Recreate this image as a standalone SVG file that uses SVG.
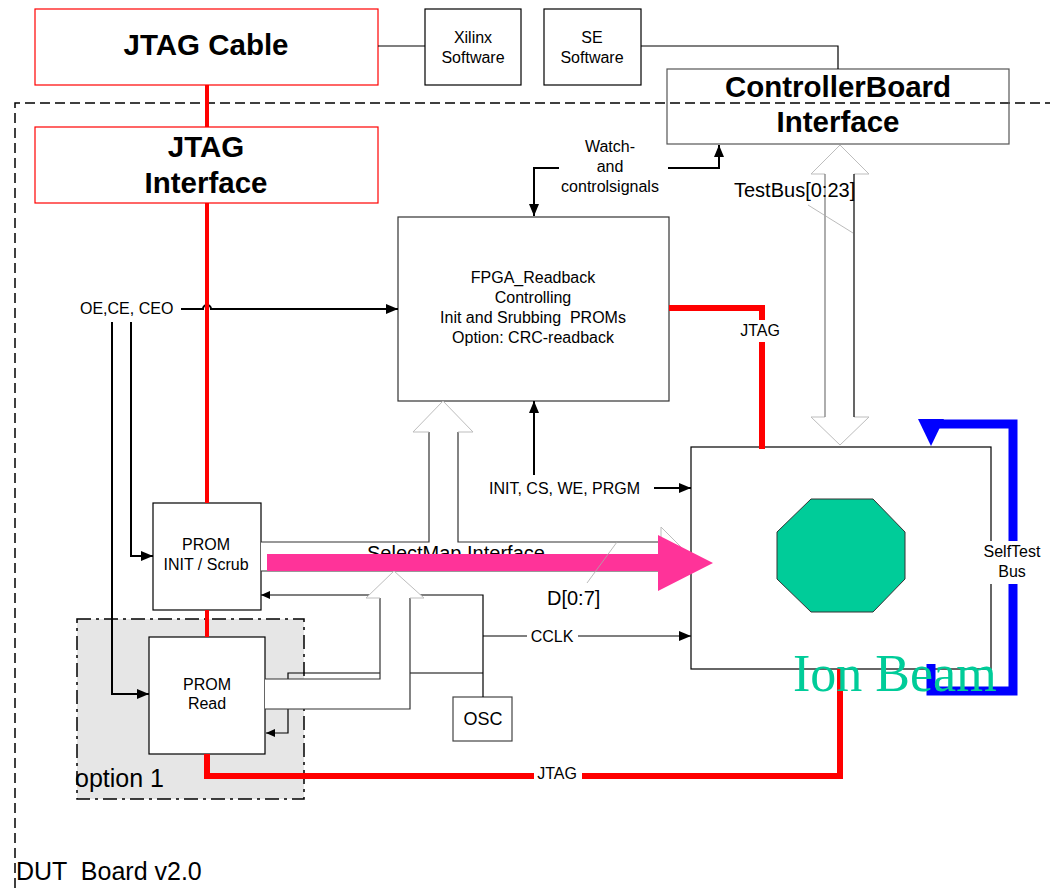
<svg xmlns="http://www.w3.org/2000/svg" width="1050" height="888" viewBox="0 0 1050 888">
<defs>
<marker id="ah" viewBox="0 0 12 10" refX="12" refY="5" markerWidth="12" markerHeight="10" markerUnits="userSpaceOnUse" orient="auto"><path d="M0,0 L12,5 L0,10 z" fill="#000"/></marker>
<marker id="ahs" viewBox="0 0 9 8" refX="9" refY="4" markerWidth="9" markerHeight="8" markerUnits="userSpaceOnUse" orient="auto"><path d="M0,0 L9,4 L0,8 z" fill="#000"/></marker>
</defs>
<style>
.t{font-family:"Liberation Sans",Arial,sans-serif;font-size:16px;fill:#000}
.m{text-anchor:middle}
.b{font-family:"Liberation Sans",Arial,sans-serif;font-size:29.5px;font-weight:bold;fill:#000;text-anchor:middle}
.box{fill:#fff;stroke:#000;stroke-width:1.2}
.rbox{fill:#fff;stroke:#f00;stroke-width:1.2}
.ln{fill:none;stroke:#000;stroke-width:2}
.thin{fill:none;stroke:#000;stroke-width:1.2}
.head{fill:none;stroke:#bdbdbd;stroke-width:1}
.shaft{fill:none;stroke:#333;stroke-width:1.2}
.red{fill:none;stroke:#f00}
.bg{fill:#fff}
</style>

<path d="M15,888 V103 H1050" fill="none" stroke="#000" stroke-width="1.5" stroke-dasharray="10,5"/>

<g id="option1">
<rect x="77" y="619" width="227" height="180" fill="#e6e6e6" stroke="#000" stroke-width="1.5" stroke-dasharray="14,5,3,5"/>
<text class="t" x="75" y="787" style="font-size:25px">option 1</text>
</g>

<g id="jtag-cable">
<rect class="rbox" x="35" y="9" width="343" height="76"/>
<text class="b" x="206" y="55">JTAG Cable</text>
</g>
<g id="xilinx-software">
<rect class="box" x="425" y="9" width="96" height="76"/>
<text class="t m" x="473" y="43">Xilinx</text>
<text class="t m" x="473" y="63">Software</text>
</g>
<g id="se-software">
<rect class="box" x="544" y="9" width="97" height="76"/>
<text class="t m" x="592" y="43">SE</text>
<text class="t m" x="592" y="63">Software</text>
</g>
<g id="controllerboard-interface">
<rect x="667" y="69" width="342" height="75" fill="none" stroke="#555" stroke-width="1.2"/>
<text class="b" x="838" y="97">ControllerBoard</text>
<text class="b" x="838" y="132">Interface</text>
</g>
<g id="jtag-interface">
<rect class="rbox" x="35" y="127" width="343" height="76"/>
<text class="b" x="206" y="157">JTAG</text>
<text class="b" x="206" y="193">Interface</text>
</g>
<g id="fpga-readback">
<rect class="box" x="398" y="217" width="271" height="184" style="stroke:#333"/>
<text class="t m" x="533" y="283">FPGA_Readback</text>
<text class="t m" x="533" y="303">Controlling</text>
<text class="t m" x="533" y="323" xml:space="preserve">Init and Srubbing  PROMs</text>
<text class="t m" x="533" y="343">Option: CRC-readback</text>
</g>
<g id="prom-init">
<rect class="box" x="153" y="503" width="108" height="107"/>
<text class="t m" x="206" y="550">PROM</text>
<text class="t m" x="206" y="570">INIT / Scrub</text>
</g>
<g id="prom-read">
<rect class="box" x="149" y="637" width="116" height="117"/>
<text class="t m" x="207" y="690">PROM</text>
<text class="t m" x="207" y="709">Read</text>
</g>
<g id="osc">
<rect class="box" x="453" y="697" width="59" height="44" style="stroke:#444"/>
<text class="t m" x="483" y="725" style="font-size:18px">OSC</text>
</g>
<g id="dut">
<rect class="box" x="691" y="447" width="300" height="222"/>
<polygon points="811,499 873,499 905,532 905,579 873,612 811,612 777,579 777,532" fill="#00cc99" stroke="#333" stroke-width="1"/>
</g>

<g id="connectors">
<path class="thin" d="M378,46 H425"/>
<path class="thin" d="M641,46 H838 V69"/>
<path class="ln" d="M559,168 H534 V216" marker-end="url(#ah)"/>
<path class="ln" d="M668,168 H719 V145" marker-end="url(#ah)"/>
<path class="ln" d="M181,309 H203 A4,4 0 0 1 211,309 H398" marker-end="url(#ah)"/>
<path class="ln" d="M131,322 V556 H153" marker-end="url(#ah)"/>
<path class="ln" d="M112,322 V694 H149" marker-end="url(#ah)"/>
<path class="ln" d="M654,488 H691" marker-end="url(#ah)"/>
<path class="ln" d="M534,475 V401" marker-end="url(#ah)"/>
<path class="thin" d="M483,636 H691" marker-end="url(#ah)"/>
<path class="thin" d="M483,697 V595 H261" marker-end="url(#ahs)"/>
<path class="thin" d="M483,673 H288 V733 H266" marker-end="url(#ahs)"/>

<!-- TestBus double hollow arrow -->
<polygon points="840,145 869,174 854,174 854,417 869,417 840,445 811,417 825,417 825,174 811,174" fill="#fff" stroke="none"/>
<path class="head" d="M825,174 H811 L840,145 L869,174 H854 M825,417 H811 L840,445 L869,417 H854"/>
<path d="M825,174 V417" fill="none" stroke="#777" stroke-width="1.2"/>
<path d="M854,174 V417" fill="none" stroke="#000" stroke-width="1.2"/>
<path d="M808,205 L853,233" stroke="#aaa" stroke-width="0.8" fill="none"/>
<text class="t" x="734" y="197" style="font-size:20px">TestBus[0:23]</text>

<!-- SelectMap bus -->
<polygon points="261,542 429,542 429,432 413,432 443,401 473,432 458,432 458,542 661,542 661,527 691,557 661,587 661,571 261,571" fill="#fff" stroke="none"/>
<path class="shaft" d="M261,542 H429 V432 M458,432 V542 H661 M261,571 H661"/>
<path class="head" d="M429,432 H413 L443,401 L473,432 H458 M661,542 V527 L691,557 L661,587 V571"/>

<!-- PROM Read to bus -->
<polygon points="265,679 380,679 380,598 366,598 394,571 424,598 410,598 410,709 265,709" fill="#fff" stroke="none"/>
<path class="shaft" d="M265,679 H380 V598 M410,598 V709 H265"/>
<path class="head" d="M380,598 H366 L394,571 L424,598 H410"/>

<text class="t" x="367" y="560" style="font-size:20px">SelectMap Interface</text>
<polygon points="267,554 658,554 658,535 713,563 658,591 658,571 267,571" fill="#ff3399"/>
<path d="M617,542 L587,583" stroke="#aaa" stroke-width="0.8" fill="none"/>
<text class="t" x="547" y="605" style="font-size:20px">D[0:7]</text>

<!-- red JTAG -->
<path class="red" stroke-width="4" d="M207,85 V127 M207,203 V503 M207,610 V637"/>
<path class="red" stroke-width="6" d="M207,754 V776 H840 V669"/>
<path class="red" stroke-width="6" d="M669,308 H762 V449"/>

<!-- blue selftest -->
<path d="M931,664 V691 H1013 V424 H931 V432" fill="none" stroke="#0000ff" stroke-width="9"/>
<polygon points="918,419 944,419 931,446" fill="#0000ff"/>

<!-- labels -->
<rect class="bg" x="738" y="320" width="46" height="22"/>
<text class="t m" x="760" y="336">JTAG</text>
<rect class="bg" x="534" y="765" width="48" height="22"/>
<text class="t m" x="557" y="779">JTAG</text>
<rect class="bg" x="527" y="628" width="51" height="18"/>
<text class="t m" x="552" y="642">CCLK</text>
<text class="t" x="80" y="314">OE,CE, CEO</text>
<text class="t" x="489" y="494">INIT, CS, WE, PRGM</text>
<text class="t m" x="610" y="152">Watch-</text>
<text class="t m" x="610" y="172">and</text>
<text class="t m" x="610" y="192">controlsignals</text>
<rect class="bg" x="990" y="541" width="46" height="43"/>
<text class="t m" x="1012" y="557">SelfTest</text>
<text class="t m" x="1012" y="577">Bus</text>
</g>

<text x="793" y="691" style="font-family:'Liberation Serif','Times New Roman',serif;font-size:52px;fill:#00cc99">Ion Beam</text>
<text class="t" x="16" y="880" style="font-size:25px" xml:space="preserve">DUT  Board v2.0</text>
</svg>
